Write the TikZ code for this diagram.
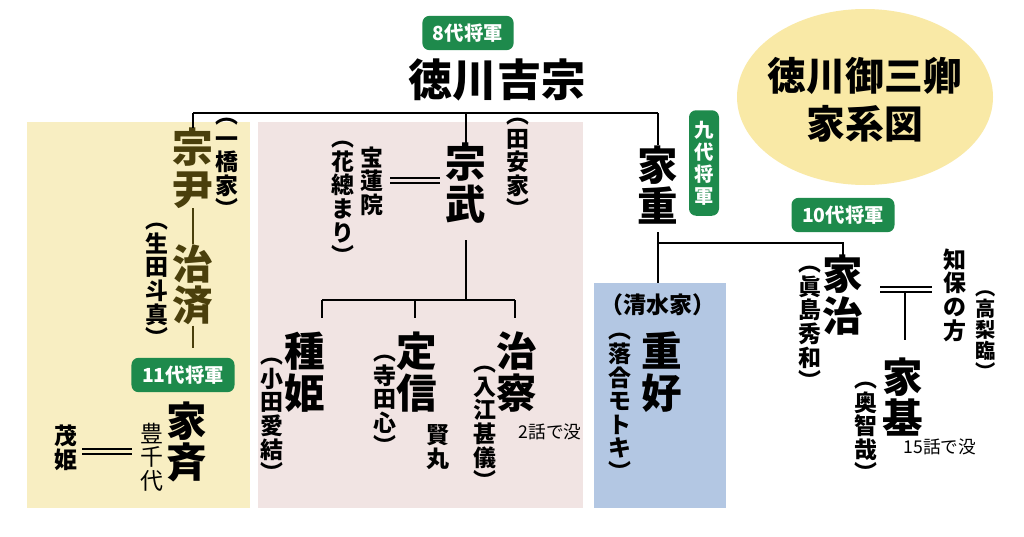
\documentclass[tikz,border=0pt]{standalone}
\usepackage{fontspec}
\setmainfont{Noto Sans CJK JP}
\definecolor{gbadge}{HTML}{1E8A4C}
\definecolor{ybg}{HTML}{F8EEC2}
\definecolor{pbg}{HTML}{F1E4E3}
\definecolor{bbg}{HTML}{B3C7E3}
\definecolor{circ}{HTML}{F9E9A6}
\definecolor{olive}{HTML}{4A3F0C}
\tikzset{
 big/.style={align=center,inner sep=0pt,font=\fontsize{23}{23.5}\selectfont\bfseries},
 mid/.style={align=center,inner sep=0pt,font=\fontsize{13}{13.4}\selectfont\bfseries},
 midr/.style={align=center,inner sep=0pt,font=\fontsize{13}{13.4}\selectfont},
 sml/.style={inner sep=0pt,font=\fontsize{10}{11}\selectfont},
 badge/.style={fill=gbadge,text=white,rounded corners=4pt,inner xsep=6pt,inner ysep=4.5pt,font=\fontsize{11}{12}\selectfont\bfseries},
 ln/.style={line width=1.3pt},
 dbl/.style={line width=0.6pt}
}
\begin{document}
\begin{tikzpicture}[x=0.5669pt,y=-0.5669pt]
\useasboundingbox[fill=white] (0,0) rectangle (1024,536);
% backgrounds
\fill[ybg] (27,122) rectangle (250,508);
\fill[pbg] (258,122) rectangle (583,508);
\fill[bbg] (594,283) rectangle (726,508);
\fill[circ] (865,97) ellipse [x radius=128, y radius=88];
\node[align=center,inner sep=0pt,font=\fontsize{22}{27}\selectfont\bfseries] (title) at (865,100) {徳川御三卿\\家系図};
% top
\node[badge] (b8) at (468,33) {8代将軍};
\node[inner sep=0pt,font=\fontsize{25}{26}\selectfont\bfseries] (yoshi) at (497,80) {徳川吉宗};
\coordinate (jl) at (193,113);
\coordinate (jm) at (466,113);
\coordinate (jr) at (658,113);
% yellow
\node[big,text=olive] (mune) at (193,168) {宗\\尹};
\node[big,text=olive] (haru) at (193,285) {治\\済};
\node[mid] (hito) at (227,168) {︵\\一\\橋\\家\\︶};
\node[mid] (ikuta) at (157,285) {︵\\生\\田\\斗\\真\\︶};
\node[badge] (b11) at (183,375) {11代将軍};
\node[big] (ienari) at (187,442) {家\\斉};
\node[midr] (toyo) at (152,457) {豊\\千\\代};
\node[mid] (shige) at (66,448) {茂\\姫};
\draw[dbl] (82,449) -- (132,449) (82,454) -- (132,454);
\draw[ln,olive] (mune.south) -- (haru.north);
\draw[ln,olive] (haru.south) -- (193,348);
% pink
\node[big] (take) at (466,183) {宗\\武};
\node[mid] (tayasu) at (518,168) {︵\\田\\安\\家\\︶};
\node[mid] (horen) at (372,181) {宝\\蓮\\院};
\node[mid] (hana) at (343,203) {︵\\花\\總\\ま\\り\\︶};
\draw[dbl] (390,178) -- (440,178) (390,183) -- (440,183);
\coordinate (jp) at (466,300);
\coordinate (jp1) at (322,300);
\coordinate (jp3) at (515,300);
\node[big] (tane) at (305,372) {種\\姫};
\node[mid] (oda) at (272,420) {︵\\小\\田\\愛\\結\\︶};
\node[big] (sada) at (417,372) {定\\信};
\node[mid] (tera) at (385,405) {︵\\寺\\田\\心\\︶};
\node[mid] (kata) at (438,447) {賢\\丸};
\node[big] (haruk) at (517,372) {治\\察};
\node[mid] (irie) at (485,428) {︵\\入\\江\\甚\\儀\\︶};
\node[sml] (d2) at (550,432) {2話で没};
\draw[ln] (466,240) -- (jp);
\draw[ln] (jp1) -- (jp3);
\draw[ln] (jp1) -- (322,318);
\draw[ln] (415,300) -- (415,318);
\draw[ln] (jp3) -- (515,318);
% right
\node[big] (ieshige) at (658,185) {家\\重};
\node[badge,inner xsep=3pt,inner ysep=6pt,font=\fontsize{11}{12.5}\selectfont\bfseries,align=center] (b9) at (704,163) {九\\代\\将\\軍};
\coordinate (jq) at (658,243);
\coordinate (jq2) at (843,243);
\node[inner sep=0pt,font=\fontsize{13}{14}\selectfont\bfseries] (shimizu) at (658,305) {（清水家）};
\node[big] (shigeyo) at (662,372) {重\\好};
\node[mid] (ochi) at (620,407) {︵\\落\\合\\モ\\ト\\キ\\︶};
\node[badge] (b10) at (843,215) {10代将軍};
\node[big] (ieharu) at (843,295) {家\\治};
\node[mid] (majima) at (810,328) {︵\\眞\\島\\秀\\和\\︶};
\node[mid] (chiho) at (955,295) {知\\保\\の\\方};
\node[mid,font=\fontsize{11.5}{12}\selectfont\bfseries] (taka) at (986,335) {︵\\高\\梨\\臨\\︶};
\node[big] (iemoto) at (903,397) {家\\基};
\node[mid] (oku) at (866,432) {︵\\奥\\智\\哉\\︶};
\node[sml] (d15) at (940,447) {15話で没};
\draw[dbl] (880,287) -- (932,287) (880,292) -- (932,292);
\draw[ln] (905,292) -- (905,340);
\draw[ln] (jl) -- (jr);
\draw[ln] (jl) -- (mune.north);
\draw[ln] (jm) -- (take.north);
\draw[ln] (jr) -- (ieshige.north);
\draw[ln] (658,232) -- (658,283);
\draw[ln] (jq) -- (jq2) -- (ieharu.north);
\end{tikzpicture}
\end{document}
